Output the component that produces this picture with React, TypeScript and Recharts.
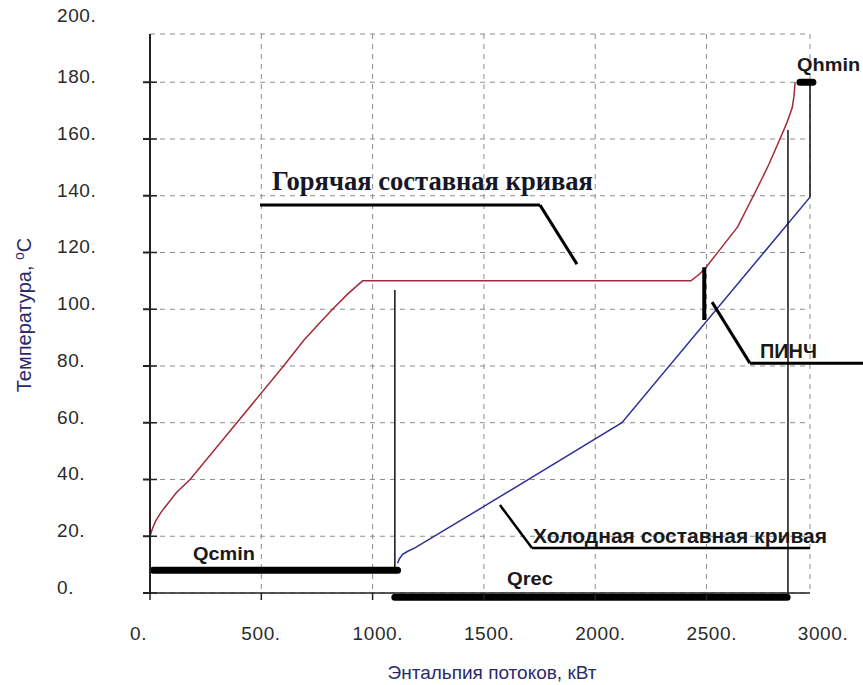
import { LineChart, Line, XAxis, YAxis, CartesianGrid, ReferenceLine, ReferenceDot } from 'recharts'

// enthalpy (kW) / temperature (C)
const hotQ = [0, 10, 25, 50, 75, 120, 180, 390, 600, 690, 760, 820, 890, 955, 2430, 2470, 2500, 2560, 2640, 2730, 2780, 2830, 2860, 2885, 2893, 2898]
const hotT = [20, 22.5, 25.3, 28.5, 31, 35.5, 40, 60, 80, 89, 95, 100, 105.5, 110, 110, 112.5, 115, 121, 129, 143, 151, 160, 165.5, 171, 175, 180]
const coldQ = [1112, 1120, 1135, 1160, 1190, 1500, 2120, 2965]
const coldT = [10.5, 12, 13.6, 14.8, 15.9, 30.5, 60, 139.5]

const xTicks = [0, 500, 1000, 1500, 2000, 2500]
const yTicks = [0, 20, 40, 60, 80, 100, 120, 140, 160, 180]

// annotation polylines, data coordinates
const hotPointer = [[494, 136.7], [1752, 136.7], [1918, 115.9]]
const coldPointer = [[1572, 31], [1716, 15.9], [2965, 15.9]]
const pinchPointer = [[2525, 102.5], [2695, 81], [3210, 81]]
const pinchBar = [[2490, 114.8], [2490, 96.2]]
const qcminBar = [[15, 8], [1112, 8]]
const qrecBar = [[1100, -1.5], [2862, -1.5]]
const qhminBar = [[2920, 180], [2978, 180]]
const thinLines = [
  [[1100, 106.8], [1100, 8]],
  [[2866, 163.2], [2866, -1.5]],
  [[2965, 180], [2965, 139.5]],
]

const hotData = hotQ.map((q, i) => ({ q, t: hotT[i] }))
const coldData = coldQ.map((q, i) => ({ q, t: coldT[i] }))

const SANS = '"Liberation Sans", Arial, sans-serif'
const SERIF = '"Liberation Serif", "Times New Roman", serif'
const TITLE_COLOR = '#2a2a6a'
const TICK_COLOR = '#2a2a2a'

const YTick = (props: any) => {
  const { x, y, payload } = props
  const axisX = x + 86 + 7
  return (
    <g>
      <line x1={axisX} x2={axisX + 7} y1={y} y2={y} stroke="#222" strokeWidth={1.5} />
      <text x={x} y={y + 1} textAnchor="start" fontFamily={SANS} fontSize={19} letterSpacing={0.6} fill={TICK_COLOR}>
        {payload.value}.
      </text>
    </g>
  )
}

const XTick = (props: any) => {
  const { x, y, payload } = props
  return (
    <text x={x - 20} y={y + 38} textAnchor="start" fontFamily={SANS} fontSize={19} letterSpacing={0.6} fill={TICK_COLOR}>
      {payload.value}.
    </text>
  )
}

// text placed at a data point (left edge, baseline)
const textShape = (label: string, size: number, width: number, opts: any = {}) => (p: any) => (
  <text
    x={p.cx + (opts.dx || 0)}
    y={p.cy + (opts.dy || 0)}
    fontFamily={opts.family || SANS}
    fontWeight={opts.weight || 'bold'}
    fontSize={size}
    fill={opts.fill || '#1a1a1a'}
    textLength={width}
    lengthAdjust="spacingAndGlyphs"
  >
    {label}
  </text>
)

const segs = (pts: number[][]) =>
  pts.slice(1).map((p, i) => [{ x: pts[i][0], y: pts[i][1] }, { x: p[0], y: p[1] }])

export default function App() {
  return (
    <div style={{ position: 'absolute', left: 0, top: 0, background: '#fff' }}>
      <LineChart width={863} height={685} margin={{ top: 34, right: 53, bottom: 0, left: 0 }}>
        <CartesianGrid stroke="#8c8c8c" strokeDasharray="5 5" />
        <XAxis
          type="number"
          dataKey="q"
          domain={[0, 2965]}
          allowDataOverflow
          ticks={xTicks}
          height={92}
          tickSize={7}
          tickMargin={2}
          stroke="#222"
          strokeWidth={1.5}
          tick={<XTick />}
          label={{
            content: (p: any) => (
              <text
                x={p.viewBox.x + p.viewBox.width / 2 + 12}
                y={p.viewBox.y + 86}
                textAnchor="middle"
                fontFamily={SANS}
                fontSize={19}
                fill={TITLE_COLOR}
              >
                Энтальпия потоков, кВт
              </text>
            ),
          }}
        />
        <YAxis
          type="number"
          dataKey="t"
          domain={[0, 197]}
          allowDataOverflow
          ticks={yTicks}
          width={150}
          tickSize={7}
          tickMargin={86}
          stroke="#222"
          strokeWidth={2}
          tick={<YTick />}
          label={{
            content: () => (
              <text
                transform="translate(31, 315) rotate(-90)"
                x={0}
                y={0}
                textAnchor="middle"
                fontFamily={SANS}
                fontSize={20}
                fill={TITLE_COLOR}
              >
                Температура,{' '}
                <tspan dy={-7} fontSize={14}>o</tspan>
                <tspan dy={7}>C</tspan>
              </text>
            ),
          }}
        />

        <Line data={hotData} dataKey="t" type="linear" stroke="#a3293a" strokeWidth={1.5} dot={false} isAnimationActive={false} />
        <Line data={coldData} dataKey="t" type="linear" stroke="#2f2f96" strokeWidth={1.5} dot={false} isAnimationActive={false} />

        {thinLines.map((l, i) => (
          <ReferenceLine key={'t' + i} segment={segs(l)[0]} stroke="#111" strokeWidth={1.5} ifOverflow="visible" />
        ))}
        {[qcminBar, qrecBar, qhminBar].map((b, i) => (
          <ReferenceLine key={'b' + i} segment={segs(b)[0]} stroke="#000" strokeWidth={7} strokeLinecap="round" ifOverflow="visible" />
        ))}
        {segs(pinchBar).map((s, i) => (
          <ReferenceLine key={'pb' + i} segment={s} stroke="#000" strokeWidth={4} ifOverflow="visible" />
        ))}
        {[hotPointer, coldPointer, pinchPointer].flatMap((pl, j) =>
          segs(pl).map((s, i) => (
            <ReferenceLine key={'p' + j + i} segment={s} stroke="#000" strokeWidth={j === 1 ? 2.5 : 3} ifOverflow="visible" />
          ))
        )}

        <ReferenceDot x={548} y={142} r={0} ifOverflow="visible"
          shape={textShape('Горячая составная кривая', 27, 321, { family: SERIF, fill: '#161628' })} />
        <ReferenceDot x={1721} y={17.6} r={0} ifOverflow="visible"
          shape={textShape('Холодная составная кривая', 20, 294)} />
        <ReferenceDot x={193} y={11.6} r={0} ifOverflow="visible" shape={textShape('Qcmin', 18, 62)} />
        <ReferenceDot x={1604} y={2.8} r={0} ifOverflow="visible" shape={textShape('Qrec', 18, 46)} />
        <ReferenceDot x={2907} y={184} r={0} ifOverflow="visible" shape={textShape('Qhmin', 18, 63)} />
        <ReferenceDot x={2740} y={82.8} r={0} ifOverflow="visible" shape={textShape('ПИНЧ', 20, 57)} />

        {/* labels that sit past the axis ends */}
        <ReferenceDot x={0} y={200} r={0} ifOverflow="visible"
          shape={(p: any) => (
            <text x={p.cx - 93} y={p.cy - 3} fontFamily={SANS} fontSize={19} letterSpacing={0.6} fill={TICK_COLOR}>200.</text>
          )} />
        <ReferenceDot x={3000} y={0} r={0} ifOverflow="visible"
          shape={(p: any) => (
            <text x={p.cx - 20} y={p.cy + 47} fontFamily={SANS} fontSize={19} letterSpacing={0.6} fill={TICK_COLOR}>3000.</text>
          )} />
      </LineChart>
    </div>
  )
}
